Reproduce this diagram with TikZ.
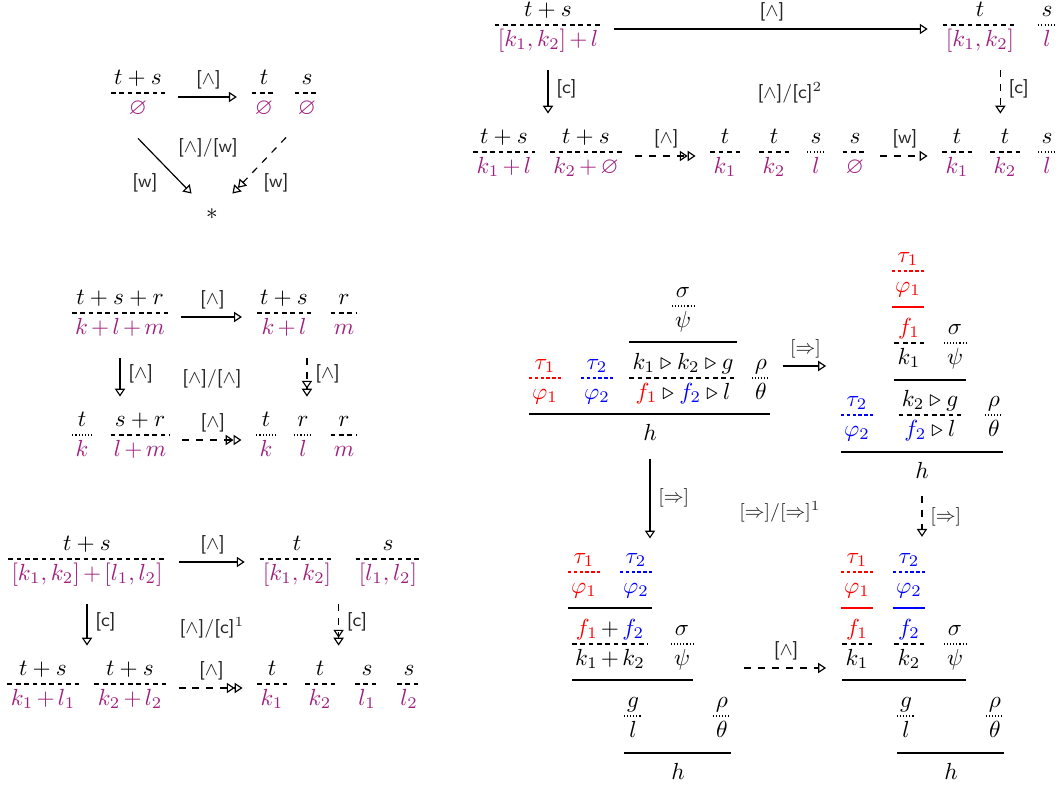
\documentclass[tikz,border=0pt]{standalone}
\usepackage{amssymb}
\usetikzlibrary{arrows.meta,fit}

\definecolor{termc}{RGB}{160,30,125}
\newcommand\tm[1]{{\color{termc}#1}}
\newcommand\cR[1]{{\color{red}#1}}
\newcommand\cB[1]{{\color{blue}#1}}
\newcommand\pl{\mkern2.5mu{+}\mkern2.5mu}

% judgement: top over a broken rule over bottom, rule centred at #3
\newcommand\judg[5][jdash]{%
  \node[jtxt, anchor=south] (#2t) at (#3) {$#4$};
  \node[jtxt, anchor=north] (#2b) at (#3) {$#5$};
  \node[fit=(#2t)(#2b), inner sep=0pt] (#2) {};
  \draw[#1] (#2.west |- #3) -- (#2.east |- #3);}

\tikzset{
  jtxt/.style={inner xsep=1pt, inner ysep=1.5pt, text height=7.5pt, text depth=2pt},
  concl/.style={jtxt, anchor=north, inner ysep=3.5pt},
  jdash/.style={line width=0.5pt, dash pattern=on 2pt off 1.6pt},
  jdot/.style={line width=0.45pt, dash pattern=on 0.45pt off 0.9pt},
  jtau/.style={line width=0.5pt, dash pattern=on 1.5pt off 1pt},
  inf/.style={line width=0.75pt},
  arr/.style={line width=0.5pt, -{Triangle[open,length=3.4pt,width=4.4pt]}},
  arrr/.style={line width=0.5pt, -{Triangle[open,length=3.4pt,width=4.4pt] Triangle[open,length=3.4pt,width=4.4pt]}},
  hsh/.style={shorten <=5.6pt, shorten >=6.4pt},
  vsh/.style={shorten <=6.4pt, shorten >=3.4pt},
  lab/.style={font=\footnotesize\sffamily, text=black!85},
}

\begin{document}
\begin{tikzpicture}[x=0.0151cm, y=-0.0151cm]
\useasboundingbox (0,0) rectangle (1060,785);

% [^]/[w]
\judg{A1}{138,93}{t+s}{\tm{\varnothing}}
\judg{A2}{264,93}{t}{\tm{\varnothing}}
\judg{A3}{307,93}{s}{\tm{\varnothing}}
\node[minimum width=17.2pt, minimum height=17.2pt, inner sep=0pt] (star) at (212,214) {$*$};
\draw[arr, hsh] (A1.east |- 0,97) -- (A2.west |- 0,97) node[lab, midway, above] {[$\wedge$]};
\draw[arr] ([yshift=-6.4pt]A1.south) -- (star.north west);
\draw[arrr, dashed] ([xshift=-9pt,yshift=-6pt]A3.south) -- (star.north east);
\node[lab] at (208,148) {[$\wedge$]/[w]};
\node[lab] at (145,183) {[w]};
\node[lab] at (276,183) {[w]};

% [^]/[c]^2
\judg{B1}{548,25}{t+s}{\tm{[k_1,k_2]\pl l}}
\judg{B2}{980,25}{t}{\tm{[k_1,k_2]}}
\judg[jdot]{B3}{1047,25}{s}{\tm{l}}
\judg{C1}{504,152}{t+s}{\tm{k_1\pl l}}
\judg{C2}{586,152}{t+s}{\tm{k_2\pl\varnothing}}
\judg{C3}{725,152}{t}{\tm{k_1}}
\judg{C4}{774,152}{t}{\tm{k_2}}
\judg[jdot]{C5}{816,152}{s}{\tm{l}}
\judg{C6}{855,152}{s}{\tm{\varnothing}}
\judg{C7}{957,152}{t}{\tm{k_1}}
\judg{C8}{1005,152}{t}{\tm{k_2}}
\judg[jdot]{C9}{1047,152}{s}{\tm{l}}
\draw[arr, hsh] (B1.east |- 0,29) -- (B2.west |- 0,29) node[lab, midway, above] {[$\wedge$]};
\draw[arr, vsh] (B1.south) -- (B1.south |- C1.north) node[lab, midway, right] {[c]};
\draw[arr, vsh, dashed] ([xshift=-2pt]C8.north |- B2.south) -- ([xshift=-2pt]C8.north) node[lab, midway, right] {[c]};
\node[lab] at (790,93) {[$\wedge$]/[c]$^2$};
\draw[arrr, hsh, dashed] (C2.east |- 0,156) -- (C3.west |- 0,156) node[lab, midway, above] {[$\wedge$]};
\draw[arr, hsh, dashed] (C6.east |- 0,156) -- (C7.west |- 0,156) node[lab, midway, above] {[w]};

% [^]/[^]
\judg{D1}{120,313}{t+s+r}{\tm{k\pl l\pl m}}
\judg{D2}{284,313}{t+s}{\tm{k\pl l}}
\judg{D3}{344,313}{r}{\tm{m}}
\judg[jdot]{E1}{82,435}{t}{\tm{k}}
\judg{E2}{140,435}{s+r}{\tm{l\pl m}}
\judg[jdot]{E3}{266,435}{t}{\tm{k}}
\judg[jdot]{E4}{303,435}{r}{\tm{l}}
\judg{E5}{344,435}{r}{\tm{m}}
\draw[arr, hsh] (D1.east |- 0,317) -- (D2.west |- 0,317) node[lab, midway, above] {[$\wedge$]};
\draw[arr, vsh] (D1.south) -- (D1.south |- E1.north) node[lab, midway, right] {[$\wedge$]};
\draw[arrr, vsh, dashed] ([xshift=1.7pt]E4.north |- D2.south) -- ([xshift=1.7pt]E4.north) node[lab, midway, right] {[$\wedge$]};
\node[lab] at (212,379) {[$\wedge$]/[$\wedge$]};
\draw[arrr, hsh, dashed] (E2.east |- 0,440) -- (E3.west |- 0,440) node[lab, midway, above] {[$\wedge$]};

% [^]/[c]^1
\judg{F1}{87,559}{t+s}{\tm{[k_1,k_2]\pl[l_1,l_2]}}
\judg{F2}{297,559}{t}{\tm{[k_1,k_2]}}
\judg{F3}{388,559}{s}{\tm{[l_1,l_2]}}
\judg{G1}{43,684}{t+s}{\tm{k_1\pl l_1}}
\judg{G2}{130,684}{t+s}{\tm{k_2\pl l_2}}
\judg{G3}{272,684}{t}{\tm{k_1}}
\judg{G4}{320,684}{t}{\tm{k_2}}
\judg{G5}{367,684}{s}{\tm{l_1}}
\judg{G6}{409,684}{s}{\tm{l_2}}
\draw[arr, hsh] (F1.east |- 0,562) -- (F2.west |- 0,562) node[lab, midway, above] {[$\wedge$]};
\draw[arr, vsh] (F1.south) -- (F1.south |- G1.north) node[lab, midway, right] {[c]};
\draw[arrr, vsh, dashed] ([xshift=8pt]G4.north |- F2.south) -- ([xshift=8pt]G4.north) node[lab, midway, right] {[c]};
\node[lab] at (212,628) {[$\wedge$]/[c]$^1$};
\draw[arrr, hsh, dashed] (G2.east |- 0,688) -- (G3.west |- 0,688) node[lab, midway, above] {[$\wedge$]};

% [=>]/[=>]^1, tree H
\judg[jdot]{Hs}{683,306}{\sigma}{\psi}
\judg{Hk}{683,378}{k_1 \triangleright k_2 \triangleright g}{\cR{f_1} \triangleright \cB{f_2} \triangleright l}
\draw[inf] (Hk.west |- 0,342) -- (Hk.east |- 0,342);
\judg[jtau,red]{Ht1}{545,378}{\cR{\tau_1}}{\cR{\varphi_1}}
\judg[jtau,blue]{Ht2}{597,378}{\cB{\tau_2}}{\cB{\varphi_2}}
\judg[jdot]{Hr}{761,378}{\rho}{\theta}
\draw[inf] (Ht1.west |- 0,414) -- (Hr.east |- 0,414);
\node[concl] (Hh) at (650,414) {$h$};

% tree I
\judg[jtau,red]{It1}{908,271}{\cR{\tau_1}}{\cR{\varphi_1}}
\draw[inf, red] (It1.west |- 0,307) -- (It1.east |- 0,307);
\judg{If}{909,343}{\cR{f_1}}{k_1}
\judg[jdot]{Is}{955,343}{\sigma}{\psi}
\draw[inf] (If.west |- 0,380) -- (Is.east |- 0,380);
\judg{Ik}{930,415}{k_2 \triangleright g}{\cB{f_2} \triangleright l}
\judg[jtau,blue]{It2}{857,415}{\cB{\tau_2}}{\cB{\varphi_2}}
\judg[jdot]{Ir}{994,415}{\rho}{\theta}
\draw[inf] (It2.west |- 0,452) -- (Ir.east |- 0,452);
\node[concl] (Ih) at (922,452) {$h$};

% tree J
\judg[jtau,red]{Jt1}{584,572}{\cR{\tau_1}}{\cR{\varphi_1}}
\judg[jtau,blue]{Jt2}{636,572}{\cB{\tau_2}}{\cB{\varphi_2}}
\draw[inf] (Jt1.west |- 0,608) -- (Jt2.east |- 0,608);
\judg{Jf}{610,644}{\cR{f_1}\pl\cB{f_2}}{k_1\pl k_2}
\judg[jdot]{Js}{682,644}{\sigma}{\psi}
\draw[inf] (Jf.west |- 0,680) -- (Js.east |- 0,680);
\judg[jdot]{Jg}{633,716}{g}{l}
\judg[jdot]{Jr}{722,716}{\rho}{\theta}
\draw[inf] (Jg.west |- 0,753) -- (Jr.east |- 0,753);
\node[concl] (Jh) at (678,753) {$h$};

% tree K
\judg[jtau,red]{Kt1}{857,572}{\cR{\tau_1}}{\cR{\varphi_1}}
\draw[inf, red] (Kt1.west |- 0,608) -- (Kt1.east |- 0,608);
\judg{Kf1}{857,644}{\cR{f_1}}{k_1}
\judg[jtau,blue]{Kt2}{909,572}{\cB{\tau_2}}{\cB{\varphi_2}}
\draw[inf, blue] (Kt2.west |- 0,608) -- (Kt2.east |- 0,608);
\judg{Kf2}{909,644}{\cB{f_2}}{k_2}
\judg[jdot]{Ks}{955,644}{\sigma}{\psi}
\draw[inf] (Kf1.west |- 0,680) -- (Ks.east |- 0,680);
\judg[jdot]{Kg}{906,716}{g}{l}
\judg[jdot]{Kr}{995,716}{\rho}{\theta}
\draw[inf] (Kg.west |- 0,753) -- (Kr.east |- 0,753);
\node[concl] (Kh) at (951,753) {$h$};

\draw[arr, hsh] (Hr.east |- 0,366) -- (It2.west |- 0,366) node[lab, midway, above] {$[\Rightarrow]$};
\draw[arr, shorten <=2.6pt, shorten >=1.3pt] (Hh.south) -- (Hh.south |- Jt1.north) node[lab, midway, right] {$[\Rightarrow]$};
\draw[arr, dashed, shorten <=2pt, shorten >=2pt] (Ih.south) -- (Ih.south |- Kt2.north) node[lab, midway, right] {$[\Rightarrow]$};
\node[lab] at (780,512) {$[\Rightarrow]/[\Rightarrow]^1$};
\draw[arr, hsh, dashed] (Jr.east |- 0,668) -- (Kt1.west |- 0,668) node[lab, midway, above] {[$\wedge$]};
\end{tikzpicture}
\end{document}
